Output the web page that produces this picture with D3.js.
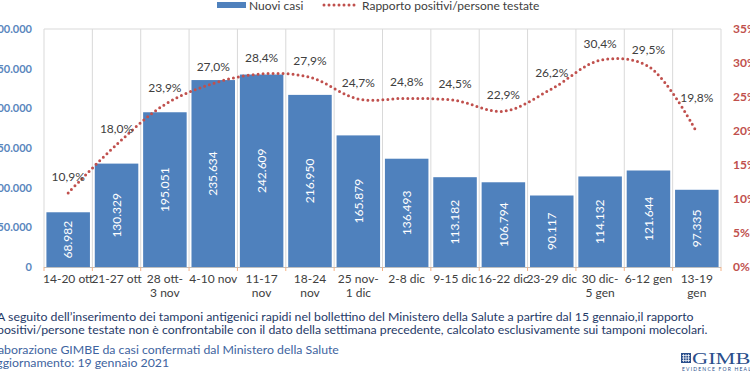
<!DOCTYPE html>
<html>
<head>
<meta charset="utf-8">
<script src="https://cdn.jsdelivr.net/npm/d3@7"></script>
<style>
  body { margin: 0; background: #fff; }
  svg { font-family: Lato, "Open Sans", sans-serif; }
</style>
</head>
<body>
<svg id="chart" width="750" height="375"></svg>
<script>
// weekly data (GIMBE)
var weeks = ["14-20 ott", "21-27 ott", "28 ott-|3 nov", "4-10 nov", "11-17|nov", "18-24|nov",
             "25 nov-|1 dic", "2-8 dic", "9-15 dic", "16-22 dic", "23-29 dic", "30 dic-|5 gen",
             "6-12 gen", "13-19|gen"];
var newCases = [68982, 130329, 195051, 235634, 242609, 216950, 165879, 136493, 113182, 106794,
                90117, 114132, 121644, 97335];
var positiveRatio = [10.9, 18.0, 23.9, 27.0, 28.4, 27.9, 24.7, 24.8, 24.5, 22.9, 26.2, 30.4, 29.5, 19.8];
var leftTicks = [0, 50000, 100000, 150000, 200000, 250000, 300000];
var rightTicks = [0, 5, 10, 15, 20, 25, 30, 35];
var noteLines = [
  "A seguito dell\u2019inserimento dei tamponi antigenici rapidi nel bollettino del Ministero della Salute a partire dal 15 gennaio,il rapporto",
  "positivi/persone testate non \u00e8 confrontabile con il dato della settimana precedente, calcolato esclusivamente sui tamponi molecolari."
];
var sourceLines = [
  "Elaborazione GIMBE da casi confermati dal Ministero della Salute",
  "Aggiornamento: 19 gennaio 2021"
];

var it = d3.formatLocale({decimal: ",", thousands: ".", grouping: [3], currency: ["", "\u20ac"]});
var fmtInt = it.format(",d"),
    fmtPct = it.format(".1f");

var svg = d3.select("#chart"),
    margin = {top: 29, right: 29, bottom: 108, left: 44},
    width = +svg.attr("width"),
    height = +svg.attr("height");

var blue = "#4f81bd", red = "#c0504d", grey = "#404040";

var x = d3.scaleBand()
    .domain(weeks)
    .range([margin.left, width - margin.right])
    .paddingInner(0.1)
    .paddingOuter(0.05);

var yL = d3.scaleLinear().domain([0, 300000]).range([height - margin.bottom, margin.top]);
var yR = d3.scaleLinear().domain([0, 35]).range([height - margin.bottom, margin.top]);

var step = x.step(), x0 = margin.left, bottom = height - margin.bottom;
var cx = i => x(weeks[i]) + x.bandwidth() / 2;

// vertical grid at category edges + top border
svg.append("g").selectAll("line")
    .data(d3.range(weeks.length + 1))
    .enter().append("line")
    .attr("x1", i => x0 + i * step).attr("x2", i => x0 + i * step)
    .attr("y1", margin.top).attr("y2", bottom)
    .attr("stroke", "#d9d9d9").attr("stroke-width", 1);
svg.append("line")
    .attr("x1", x0).attr("x2", width - margin.right)
    .attr("y1", margin.top).attr("y2", margin.top)
    .attr("stroke", "#d9d9d9");

// bars
svg.append("g").selectAll("rect")
    .data(newCases)
    .enter().append("rect")
    .attr("x", (d, i) => x(weeks[i]))
    .attr("width", x.bandwidth())
    .attr("y", d => yL(d))
    .attr("height", d => bottom - yL(d))
    .attr("fill", blue);

// values inside the bars
svg.append("g").selectAll("text")
    .data(newCases)
    .enter().append("text")
    .attr("transform", (d, i) => "translate(" + cx(i) + "," + (yL(d) + bottom) / 2 + ") rotate(-90)")
    .attr("text-anchor", "middle")
    .attr("dy", "0.35em")
    .attr("fill", "#fff")
    .style("font-size", "12px")
    .text(d => fmtInt(d));

// category axis
svg.append("line")
    .attr("x1", x0).attr("x2", width - margin.right)
    .attr("y1", bottom + 0.5).attr("y2", bottom + 0.5)
    .attr("stroke", "#bfbfbf");
svg.append("g").selectAll("line")
    .data(d3.range(weeks.length + 1))
    .enter().append("line")
    .attr("x1", i => x0 + i * step).attr("x2", i => x0 + i * step)
    .attr("y1", bottom).attr("y2", bottom + 4)
    .attr("stroke", "#f4b183");

var xl = svg.append("g").selectAll("text")
    .data(weeks)
    .enter().append("text")
    .attr("x", d => x(d) + x.bandwidth() / 2)
    .attr("y", bottom + 16)
    .attr("text-anchor", "middle")
    .attr("fill", grey)
    .style("font-size", "12px");
xl.selectAll("tspan")
    .data(d => d.split("|"))
    .enter().append("tspan")
    .attr("x", function() { return this.parentNode.getAttribute("x"); })
    .attr("dy", (d, i) => i ? 14 : 0)
    .text(d => d);

// left axis labels
svg.append("g").selectAll("text")
    .data(leftTicks)
    .enter().append("text")
    .attr("x", 32)
    .attr("y", d => yL(d))
    .attr("dy", "0.35em")
    .attr("text-anchor", "end")
    .attr("fill", "#5a86bd")
    .style("font-size", "11px")
    .style("font-weight", "bold")
    .text(d => fmtInt(d));

// right axis labels
svg.append("g").selectAll("text")
    .data(rightTicks)
    .enter().append("text")
    .attr("x", 733)
    .attr("y", d => yR(d))
    .attr("dy", "0.35em")
    .attr("fill", red)
    .style("font-size", "12px")
    .style("font-weight", "bold")
    .text(d => d + "%");

// ratio line, dotted and smoothed
var line = d3.line()
    .curve(d3.curveCatmullRom.alpha(0.5))
    .x((d, i) => cx(i))
    .y(d => yR(d));

svg.append("path")
    .datum(positiveRatio)
    .attr("d", line)
    .attr("fill", "none")
    .attr("stroke", red)
    .attr("stroke-width", 3)
    .attr("stroke-linecap", "round")
    .attr("stroke-dasharray", "0,5");

// labels above points; lifted more where the line falls steeply into the point
svg.append("g").selectAll("text")
    .data(positiveRatio)
    .enter().append("text")
    .attr("x", (d, i) => cx(i))
    .attr("y", (d, i) => {
        var drop = i > 0 ? positiveRatio[i - 1] - d : 0;
        return yR(d) - 12 - Math.max(0, drop - 5) * 4;
    })
    .attr("text-anchor", "middle")
    .attr("fill", grey)
    .style("font-size", "12px")
    .text(d => fmtPct(d) + "%");

// legend
var lg = svg.append("g");
lg.append("rect").attr("x", 217).attr("y", 2).attr("width", 29).attr("height", 6).attr("fill", blue);
lg.append("text").attr("x", 249).attr("y", 10).attr("fill", grey).style("font-size", "12px").text("Nuovi casi");
lg.append("line").attr("x1", 324).attr("x2", 355).attr("y1", 5).attr("y2", 5)
    .attr("stroke", red).attr("stroke-width", 3).attr("stroke-linecap", "round").attr("stroke-dasharray", "0,5");
lg.append("text").attr("x", 362).attr("y", 10).attr("fill", grey).style("font-size", "12px")
    .text("Rapporto positivi/persone testate");

// notes
svg.append("g").selectAll("text")
    .data(noteLines)
    .enter().append("text")
    .attr("x", -3)
    .attr("y", (d, i) => 321 + i * 13)
    .attr("fill", "#1f3a68")
    .style("font-size", "12.3px")
    .text(d => d);

svg.append("g").selectAll("text")
    .data(sourceLines)
    .enter().append("text")
    .attr("x", -12)
    .attr("y", (d, i) => 354 + i * 13)
    .attr("fill", "#3e64a0")
    .style("font-size", "12.3px")
    .text(d => d);

// GIMBE logo
var logo = svg.append("g").attr("transform", "translate(681,353)");
logo.append("rect").attr("width", 10).attr("height", 10).attr("fill", "#2b4f8c");
logo.append("g").selectAll("path")
    .data([2.5, 5, 7.5])
    .enter().append("path")
    .attr("d", d => "M" + d + ",1V9M1," + d + "H9")
    .attr("stroke", "#fff").attr("stroke-width", 0.7);
logo.append("text").attr("x", 11).attr("y", 10.5)
    .attr("fill", "#2b4f8c")
    .style("font-family", "'Liberation Serif', serif")
    .style("font-size", "17px")
    .attr("textLength", 72).attr("lengthAdjust", "spacingAndGlyphs")
    .text("GIMBE");
logo.append("text").attr("x", 1).attr("y", 18)
    .attr("fill", "#2b4f8c")
    .style("font-size", "5px")
    .attr("letter-spacing", "1.2px")
    .text("EVIDENCE FOR HEALTH");
</script>
</body>
</html>
